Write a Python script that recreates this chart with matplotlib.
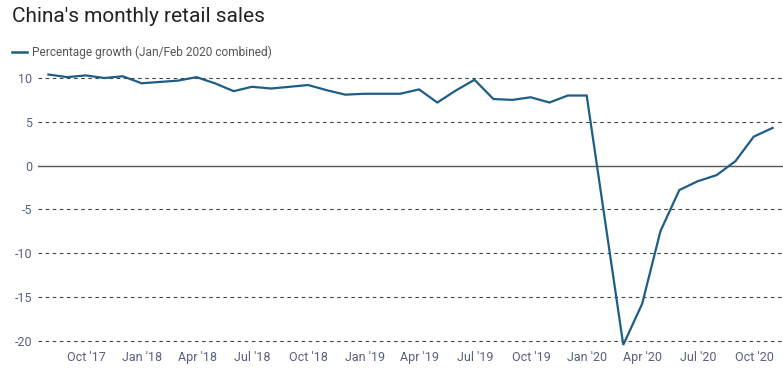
import matplotlib
matplotlib.use("Agg")
import matplotlib.pyplot as plt
import pandas as pd

plt.rcParams['font.family'] = ['Roboto', 'DejaVu Sans']

# Month-end dates (January omitted: Jan/Feb reported combined)
dates = [
    "2017-07-31", "2017-08-31", "2017-09-30", "2017-10-31", "2017-11-30", "2017-12-31",
    "2018-02-28", "2018-03-31", "2018-04-30", "2018-05-31", "2018-06-30", "2018-07-31",
    "2018-08-31", "2018-09-30", "2018-10-31", "2018-11-30", "2018-12-31",
    "2019-02-28", "2019-03-31", "2019-04-30", "2019-05-31", "2019-06-30", "2019-07-31",
    "2019-08-31", "2019-09-30", "2019-10-31", "2019-11-30", "2019-12-31",
    "2020-02-29", "2020-03-31", "2020-04-30", "2020-05-31", "2020-06-30", "2020-07-31",
    "2020-08-31", "2020-09-30", "2020-10-31",
]
growth = [
    10.4, 10.1, 10.3, 10.0, 10.2, 9.4,
    9.7, 10.1, 9.4, 8.5, 9.0, 8.8,
    9.0, 9.2, 8.6, 8.1, 8.2,
    8.2, 8.7, 7.2, 8.6, 9.8, 7.6,
    7.5, 7.8, 7.2, 8.0, 8.0,
    -20.5, -15.8, -7.5, -2.8, -1.8, -1.1,
    0.5, 3.3, 4.3,
]
tick_dates = ["2017-10-01", "2018-01-01", "2018-04-01", "2018-07-01", "2018-10-01",
              "2019-01-01", "2019-04-01", "2019-07-01", "2019-10-01", "2020-01-01",
              "2020-04-01", "2020-07-01", "2020-10-01"]
tick_labels = ["Oct '17", "Jan '18", "Apr '18", "Jul '18", "Oct '18", "Jan '19",
               "Apr '19", "Jul '19", "Oct '19", "Jan '20", "Apr '20", "Jul '20", "Oct '20"]
y_ticks = [-20, -15, -10, -5, 0, 5, 10]

title = "China's monthly retail sales"
series_label = "Percentage growth (Jan/Feb 2020 combined)"

line_color = "#1d5d86"
tick_color = "#56617d"

fig = plt.figure(figsize=(7.83, 3.70), dpi=100)
ax = fig.add_axes([38/783, 1 - 349.25/370, 1 - 38/783, (349.25 - 64.9)/370])

x = pd.to_datetime(dates)
ax.plot(x, growth, color=line_color, lw=1.6, solid_joinstyle='miter', zorder=3)

ax.set_ylim(-21, 11.5)
ax.set_xlim(pd.Timestamp("2017-07-14"), pd.Timestamp("2020-11-17"))

for v in y_ticks:
    if v == 0:
        ax.axhline(v, color="#555555", lw=1.0, zorder=2)
    else:
        ax.axhline(v, color="#444444", lw=0.8, ls=(0, (3.2, 3.2)), zorder=1)

ax.set_yticks(y_ticks)
ax.set_yticklabels([str(v) for v in y_ticks])
ax.set_xticks(pd.to_datetime(tick_dates))
ax.set_xticklabels(tick_labels)
ax.tick_params(axis='both', length=0, labelsize=9, labelcolor=tick_color)
ax.tick_params(axis='y', pad=4)
ax.tick_params(axis='x', pad=1)
for s in ax.spines.values():
    s.set_visible(False)

fig.text(12/783, 1 - 17/370, title, fontsize=15, color="#222222", va='center', ha='left')
fig.add_artist(plt.Line2D([12/783, 27/783], [1 - 52/370, 1 - 52/370], color=line_color, lw=1.8))
fig.text(32/783, 1 - 52/370, series_label, fontsize=8.6, color="#555555", va='center', ha='left')

fig.savefig("out.png", dpi=100)
